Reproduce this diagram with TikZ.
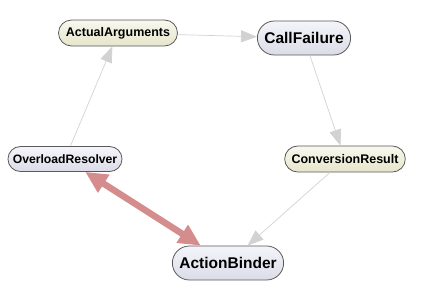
\documentclass[tikz,border=0pt]{standalone}
\usepackage{fontspec}
\setmainfont{Liberation Sans}
\usetikzlibrary{shapes.misc,arrows.meta}

\definecolor{creamtop}{HTML}{F8F8EE}
\definecolor{creambot}{HTML}{E6E6CC}
\definecolor{lavtop}{HTML}{F4F4FA}
\definecolor{lavbot}{HTML}{DCDCE8}
\definecolor{edgegray}{HTML}{D2D2D2}
\definecolor{bindred}{HTML}{D58C8C}

\begin{document}
\begin{tikzpicture}[
    x=1pt, y=-1pt,
    box/.style={rounded rectangle, draw=black!65, line width=0.8pt, inner xsep=6pt, align=center, font=\bfseries},
    databox/.style={box, top color=creamtop, bottom color=creambot, minimum height=26pt, font=\bfseries\fontsize{12.5}{14}\selectfont},
    classbox/.style={box, top color=lavtop, bottom color=lavbot, minimum height=34pt, font=\bfseries\fontsize{15.5}{18}\selectfont},
    smallbox/.style={box, top color=lavtop, bottom color=lavbot, minimum height=25pt, inner xsep=4pt, font=\bfseries\fontsize{12.2}{14}\selectfont},
    arrow/.style={-{Triangle[length=16pt,width=12pt]}, edgegray, line width=0.7pt},
    bigarrow/.style={{Triangle[length=22pt,width=20pt]}-{Triangle[length=22pt,width=20pt]}, bindred, line width=6.5pt}
]
\useasboundingbox (0,0) rectangle (433,292);

% Nodes
\node[databox] (actual) at (118,33) {ActualArguments};
\node[classbox] (failure) at (304,38) {CallFailure};
\node[smallbox] (resolver) at (65,159) {OverloadResolver};
\node[databox] (conversion) at (345,159) {ConversionResult};
\node[classbox] (binder) at (228,263) {ActionBinder};

% Arrows
\draw[arrow] (actual) -- (failure);
\draw[arrow] (failure) -- (conversion);
\draw[arrow] (conversion) -- (binder);
\draw[arrow] (resolver) -- (actual);
\draw[bigarrow] (resolver) -- (binder);

\end{tikzpicture}
\end{document}
